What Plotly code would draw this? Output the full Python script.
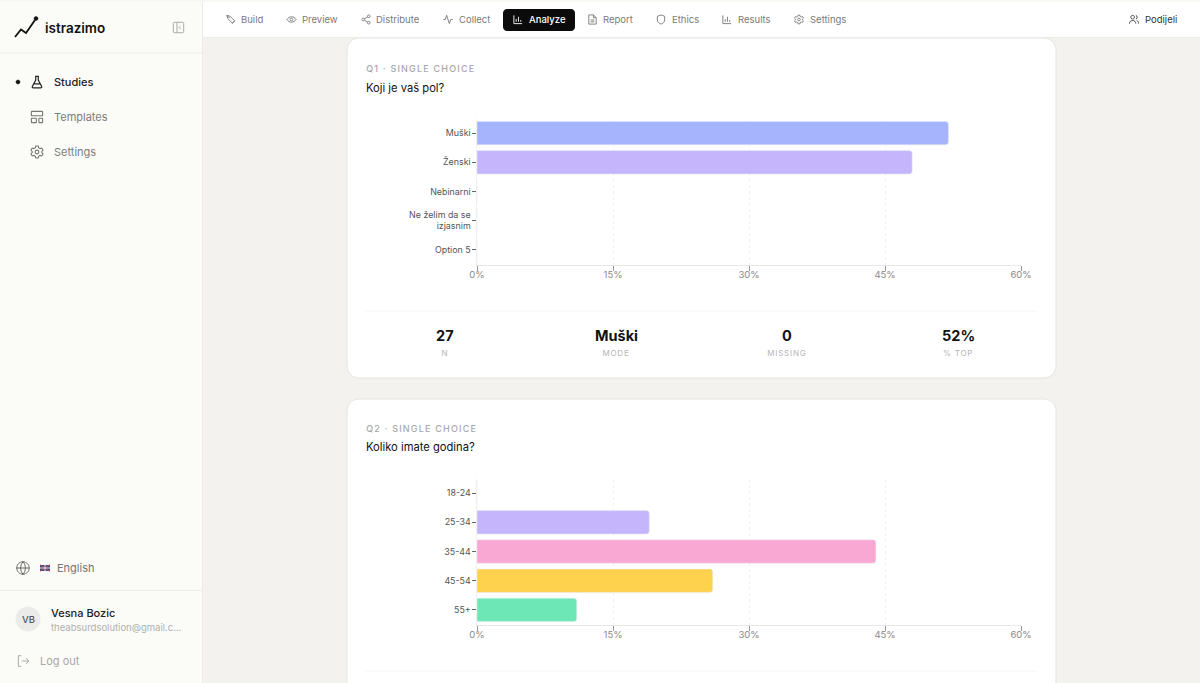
import plotly.graph_objects as go

W, H = 1200, 683
FONT = "Inter"

q1_categories = ["Muški", "Ženski", "Nebinarni", "Ne želim da se<br>izjasnim", "Option 5"]
q1_values = [52, 48, 0, 0, 0]
q1_colors = ["#a5b4fc", "#c4b5fd", "#f9a8d4", "#fcd34d", "#6ee7b7"]

q2_categories = ["18-24", "25-34", "35-44", "45-54", "55+"]
q2_values = [0, 19, 44, 26, 11]
q2_colors = ["#a5b4fc", "#c4b5fd", "#f9a8d4", "#ffd24d", "#6ee7b7"]

x_ticks = [0, 15, 30, 45, 60]
x_tick_labels = ["0%", "15%", "30%", "45%", "60%"]

nav_items = ["Build", "Preview", "Distribute", "Collect", "Analyze", "Report", "Ethics", "Results", "Settings"]
nav_text_x = [241, 302, 376, 459, 529, 603, 672, 738, 810]
q1_stats = [("27", "N"), ("Muški", "MODE"), ("0", "MISSING"), ("52%", "% TOP")]

shapes, annotations = [], []


def px(x):
    return x / W


def py(y):
    return 1 - y / H


def rect(x0, y0, x1, y1, fill, line=None, lw=0):
    shapes.append(dict(type="rect", xref="paper", yref="paper", x0=px(x0), x1=px(x1), y0=py(y0), y1=py(y1),
                       fillcolor=fill, line=dict(color=line or fill, width=lw), layer="below"))


def circ_d(cx, cy, r):
    k = 0.5523 * r
    return (f"M {cx-r} {cy} C {cx-r} {cy-k} {cx-k} {cy-r} {cx} {cy-r} C {cx+k} {cy-r} {cx+r} {cy-k} {cx+r} {cy} "
            f"C {cx+r} {cy+k} {cx+k} {cy+r} {cx} {cy+r} C {cx-k} {cy+r} {cx-r} {cy+k} {cx-r} {cy} Z ")


def rr_d(x, y, w, h, r):
    k = 0.4477 * r
    return (f"M {x+r} {y} L {x+w-r} {y} C {x+w-k} {y} {x+w} {y+k} {x+w} {y+r} L {x+w} {y+h-r} "
            f"C {x+w} {y+h-k} {x+w-k} {y+h} {x+w-r} {y+h} L {x+r} {y+h} C {x+k} {y+h} {x} {y+h-k} {x} {y+h-r} "
            f"L {x} {y+r} C {x} {y+k} {x+k} {y} {x+r} {y} Z ")


def path(d, cx=12, cy=12, size=24, color="#777", lw=1, fill="rgba(0,0,0,0)"):
    """Place an icon drawn on a 24-unit grid, centred on (cx, cy), sized in pixels."""
    s = size / 24
    out, i = [], 0
    for tok in d.split():
        if tok.isalpha():
            out.append(tok)
        else:
            v = float(tok)
            if i % 2 == 0:
                out.append(f"{px(cx + (v - 12) * s):.5f}")
            else:
                out.append(f"{py(cy + (v - 12) * s):.5f}")
            i += 1
    shapes.append(dict(type="path", xref="paper", yref="paper", path=" ".join(out), fillcolor=fill,
                       line=dict(color=color, width=lw), layer="below"))


def text(x, y, s, size=12, color="#222", weight=400, anchor="left"):
    if anchor == "left":
        x -= 1
    annotations.append(dict(xref="paper", yref="paper", x=px(x), y=py(y), text=s, showarrow=False,
                            xanchor=anchor, yanchor="middle", borderpad=0,
                            font=dict(family=FONT, size=size, color=color, weight=weight)))


# ---------- page chrome ----------
rect(0, 0, W, H, "#f3f2ee")
rect(0, 0, 202.5, H, "#fbfbf7")
rect(202, 0, 203, H, "#ecece8")
rect(0, 0, W, 2, "#f7f7f3")

# cards
path(rr_d(347, 38, 709, 340, 12), color="#e4e4e1", lw=1, fill="#ffffff")
path(rr_d(347, 399, 709, 330, 12), color="#e4e4e1", lw=1, fill="#ffffff")
rect(203, 2, W, 37, "#ffffff")
rect(203, 37, W, 38, "#ebebe7")
rect(0, 52.5, 202, 53.5, "#ecece8")
rect(0, 590, 202, 591, "#ecece8")
rect(366, 310.7, 1037, 311.5, "#f3f3f1")
rect(366, 670.7, 1037, 671.5, "#f3f3f1")

# logo
path("M 15 37 L 21 29.5 L 26 33 L 35 20", color="#111", lw=1.8)
path(circ_d(36, 18.5, 2), color="#111", lw=0.5, fill="#111")
text(45, 28, "istrazimo", 13.5, "#111", 600)
# collapse
path(rr_d(2, 2, 20, 20, 2) + "M 9 2 L 9 22 M 16 9 L 13 12 L 16 15", 178.5, 27.5, 12.5, "#aaa", 1)

# side navigation
path(circ_d(18, 82, 2), color="#111", lw=0.5, fill="#111")
FLASK = "M 9 3 L 15 3 M 10 3 L 10 9 L 4.5 19 C 4 20.5 4.8 21.5 6 21.5 L 18 21.5 C 19.2 21.5 20 20.5 19.5 19 L 14 9 L 14 3 M 7 15 L 17 15"
GEAR = ("M 10 2.5 L 14 2.5 L 14.6 5.2 L 17 6.5 L 19.7 5.7 L 21.7 9.2 L 19.7 11 L 19.7 13 L 21.7 14.8 L 19.7 18.3 "
        "L 17 17.5 L 14.6 18.8 L 14 21.5 L 10 21.5 L 9.4 18.8 L 7 17.5 L 4.3 18.3 L 2.3 14.8 L 4.3 13 L 4.3 11 "
        "L 2.3 9.2 L 4.3 5.7 L 7 6.5 L 9.4 5.2 Z " + circ_d(12, 12, 3))
TEMPLATES = rr_d(3, 3, 18, 7, 1) + rr_d(3, 14, 8, 7, 1) + rr_d(15, 14, 6, 7, 1)
BARS = "M 3 3 L 3 21 L 21 21 M 8 17 L 8 11 M 13 17 L 13 6 M 18 17 L 18 13"
path(FLASK, 37, 82, 15, "#222", 1.2)
path(TEMPLATES, 37, 117, 15, "#777", 1.1)
path(GEAR, 37, 152, 15, "#777", 1.1)
text(54, 82, "Studies", 11, "#222", 500)
text(54, 117, "Templates", 11, "#7d7d7d")
text(54, 152, "Settings", 11, "#7d7d7d")

# language / user
path(circ_d(12, 12, 10) + "M 2 12 L 22 12 M 12 2 C 7 7 7 17 12 22 C 17 17 17 7 12 2 Z", 23, 568, 15, "#666", 1)
rect(40, 565, 50, 571, "#3f4a7d")
path("M 0 4 L 24 20 M 24 4 L 0 20", 45, 568, 10, "#c8485a", 0.9)
path("M 12 4 L 12 20 M 0 12 L 24 12", 45, 568, 10, "#e9d7da", 1)
text(57, 568, "English", 11, "#757575")
path(circ_d(28, 619, 12.5), color="#ebebe9", lw=0, fill="#ebebe9")
text(28.5, 619, "VB", 9.5, "#555", 500, "center")
text(51, 613, "Vesna Bozic", 11, "#222", 500)
text(51, 627, "theabsurdsolution@gmail.c...", 9.5, "#b0b0b0")
path("M 9 3 L 4 3 L 4 21 L 9 21 M 10 12 L 22 12 M 17 7 L 22 12 L 17 17", 23, 661, 14, "#aaa", 1)
text(40, 661, "Log out", 11, "#a8a8a8")

# top navigation
path(rr_d(503, 9, 72, 22, 4), color="#0b0b0b", lw=0, fill="#0b0b0b")
for name, x in zip(nav_items, nav_text_x):
    active = name == "Analyze"
    text(x, 19.5, name, 9.5, "#ffffff" if active else "#7a7a7a", 500 if active else 400)
ICONS = [
    ("M 3 3 L 10 5 L 20 15 L 15 20 L 5 10 Z M 3 3 L 9 9 M 14 21 L 21 14", 231),
    (circ_d(12, 12, 3) + "M 2 12 C 7 4 17 4 22 12 C 17 20 7 20 2 12 Z", 291.5),
    (circ_d(18, 5, 3) + circ_d(6, 12, 3) + circ_d(18, 19, 3) + "M 8.6 10.5 L 15.4 6.5 M 8.6 13.5 L 15.4 17.5", 366),
    ("M 2 12 L 6 12 L 9 3 L 15 21 L 18 12 L 22 12", 448),
    (BARS, 518),
    ("M 6 2 L 14 2 L 20 8 L 20 22 L 4 22 L 4 2 Z M 14 2 L 14 8 L 20 8 M 8 13 L 16 13 M 8 17 L 16 17", 592.5),
    ("M 12 2 L 20 5 L 20 13 C 20 18 16 20.5 12 22 C 8 20.5 4 18 4 13 L 4 5 Z", 661),
    (BARS, 727),
    (GEAR, 799),
]
for (d, x), name in zip(ICONS, nav_items):
    path(d, x, 19.5, 11, "#ffffff" if name == "Analyze" else "#777", 0.9)
path(circ_d(9, 7, 4) + "M 2 21 C 2 12 16 12 16 21 M 16 3 C 20 4 20 10 16 11 M 22 21 C 22 17 20 15 18 14", 1134, 19.5, 11, "#333", 0.9)
text(1145, 19.5, "Podijeli", 9.5, "#333", 400)

# ---------- card texts ----------
text(421, 68, "Q1 · SINGLE CHOICE", 9, "#a8a8a8", 500, "center")
text(366, 87.5, "Koji je vaš pol?", 11.2, "#111")
text(421, 428, "Q2 · SINGLE CHOICE", 9, "#a8a8a8", 500, "center")
text(366, 447.5, "Koliko imate godina?", 11.2, "#111")
for (value, label), x in zip(q1_stats, [445, 616, 787, 958]):
    text(x, 335.5, value, 14.5, "#111", 700, "center")
    text(x, 353, label, 8, "#b5b5b5", 400, "center")

# ---------- charts ----------
fig = go.Figure()
fig.add_trace(go.Bar(y=q1_categories, x=q1_values, orientation="h", marker=dict(color=q1_colors, cornerradius=3),
                     xaxis="x", yaxis="y", hoverinfo="skip", showlegend=False))
fig.add_trace(go.Bar(y=q2_categories, x=q2_values, orientation="h", marker=dict(color=q2_colors, cornerradius=3),
                     xaxis="x2", yaxis="y2", hoverinfo="skip", showlegend=False))


def xaxis(anchor):
    return dict(domain=[px(477), px(1021)], range=[0, 60], anchor=anchor, tickmode="array", tickvals=x_ticks,
                ticktext=x_tick_labels, ticks="outside", ticklen=5, tickwidth=1, tickcolor="#999",
                ticklabelstandoff=-4, automargin=False,
                tickfont=dict(family=FONT, size=9.5, color="#888"), showline=True, linecolor="#e8e8e6", linewidth=1,
                showgrid=True, gridcolor="#f1f1ef", griddash="3px,3px", gridwidth=1, zeroline=False, fixedrange=True)


def yaxis(anchor, cats, top, bottom):
    return dict(domain=[py(bottom), py(top)], anchor=anchor, type="category", categoryorder="array",
                categoryarray=cats, autorange="reversed", ticks="outside", ticklen=4, tickwidth=1, tickcolor="#666",
                ticklabelstandoff=-1, automargin=False,
                tickfont=dict(family=FONT, size=8.9, color="#555"), showline=True, linecolor="#f0f0ec", linewidth=1.5,
                showgrid=False, zeroline=False, fixedrange=True)


fig.update_layout(
    width=W, height=H, margin=dict(l=0, r=0, t=0, b=0, autoexpand=False), autosize=False,
    paper_bgcolor="#f3f2ee", plot_bgcolor="rgba(0,0,0,0)", bargap=0.2,
    font=dict(family=FONT), showlegend=False,
    xaxis=xaxis("y"), yaxis=yaxis("x", q1_categories, 118.5, 264.5),
    xaxis2=xaxis("y2"), yaxis2=yaxis("x2", q2_categories, 478.5, 624.5),
    shapes=shapes, annotations=annotations,
)

post = """
document.body.style.margin = '0';
var caps = ['Q1 · SINGLE CHOICE', 'Q2 · SINGLE CHOICE', 'N', 'MODE', 'MISSING', '% TOP'];
document.querySelectorAll('.annotation-text').forEach(function (t) {
  if (caps.indexOf(t.textContent) >= 0) {
    t.style.letterSpacing = t.textContent.charAt(0) === 'Q' ? '1.2px' : '0.8px';
  }
});
document.querySelectorAll('.ytick text tspan.line').forEach(function (s) {
  if (s.textContent === 'izjasnim') { s.setAttribute('dy', '1.2em'); }
});
"""
fig.write_html("out.html", config={"displayModeBar": False, "staticPlot": True}, post_script=post)
